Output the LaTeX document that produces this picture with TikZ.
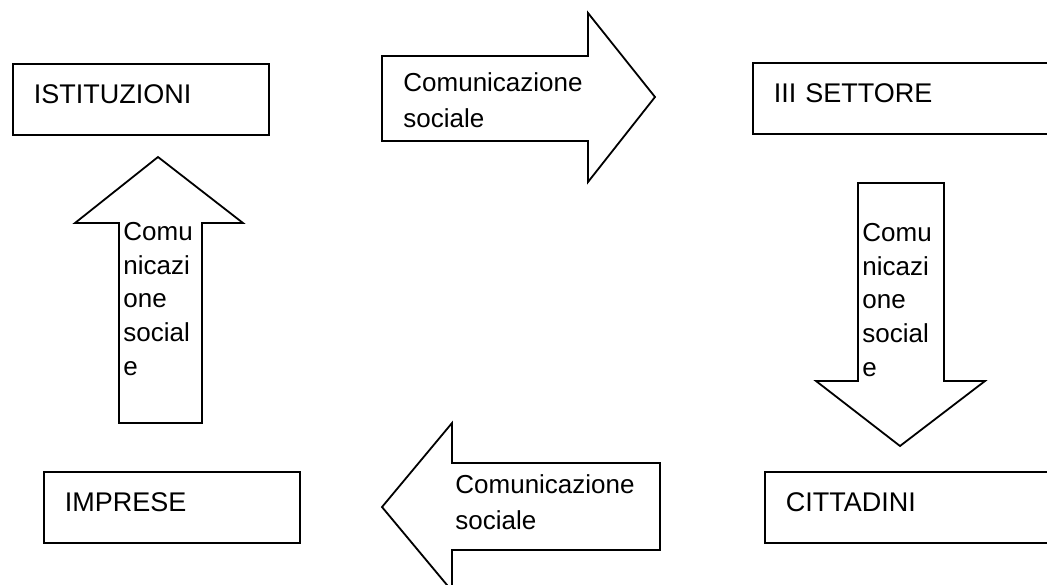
\documentclass[tikz,border=0pt]{standalone}
\usepackage{fontspec}
\setmainfont{Liberation Sans}
\tikzstyle{entityBox}=[draw, line width = 0.9pt, anchor = north west, align = left, inner xsep = 10.5pt, inner ysep = 0pt, text height = 20pt, text depth = 15.5pt, font = \fontsize{13.5}{16}\selectfont]
\tikzstyle{flowArrow}=[draw, line width = 0.9pt, line join = miter]
\tikzstyle{flowText}=[anchor = base west, align = left, inner sep = 0pt, font = \fontsize{13}{18}\selectfont]
\tikzstyle{flowTextNarrow}=[flowText, font = \fontsize{13}{16.8}\selectfont]

\begin{document}
\begin{tikzpicture}[x = 0.5pt, y = -0.5pt]
\clip (0,0) rectangle (1047,584);
% boxes
\node[entityBox, text width = 107pt] (istituzioni) at (12,63) {ISTITUZIONI};
\node[entityBox, text width = 139pt] (settore) at (752,62) {III SETTORE};
\node[entityBox, text width = 107pt] (imprese) at (43,471) {IMPRESE};
\node[entityBox, text width = 139pt] (cittadini) at (764,471) {CITTADINI};
% arrows
\draw[flowArrow] (382,56) -- (588,56) -- (588,13) -- (655,97) -- (588,182) -- (588,141) -- (382,141) -- cycle;
\draw[flowArrow] (858,183) -- (944,183) -- (944,381) -- (985,381) -- (900,446) -- (816,381) -- (858,381) -- cycle;
\draw[flowArrow] (660,463) -- (452,463) -- (452,423) -- (382,507) -- (452,591) -- (452,550) -- (660,550) -- cycle;
\draw[flowArrow] (119,423) -- (119,223) -- (75,223) -- (158,157) -- (243,223) -- (202,223) -- (202,423) -- cycle;
% arrow labels (anchored on the last baseline)
\node[flowText] (comTop) at (403,127) {Comunicazione\\sociale};
\node[flowText] (comBottom) at (455,529) {Comunicazione\\sociale};
\node[flowTextNarrow] (comLeft) at (123,375) {Comu\\nicazi\\one\\social\\e};
\node[flowTextNarrow] (comRight) at (862,376) {Comu\\nicazi\\one\\social\\e};
\end{tikzpicture}
\end{document}
